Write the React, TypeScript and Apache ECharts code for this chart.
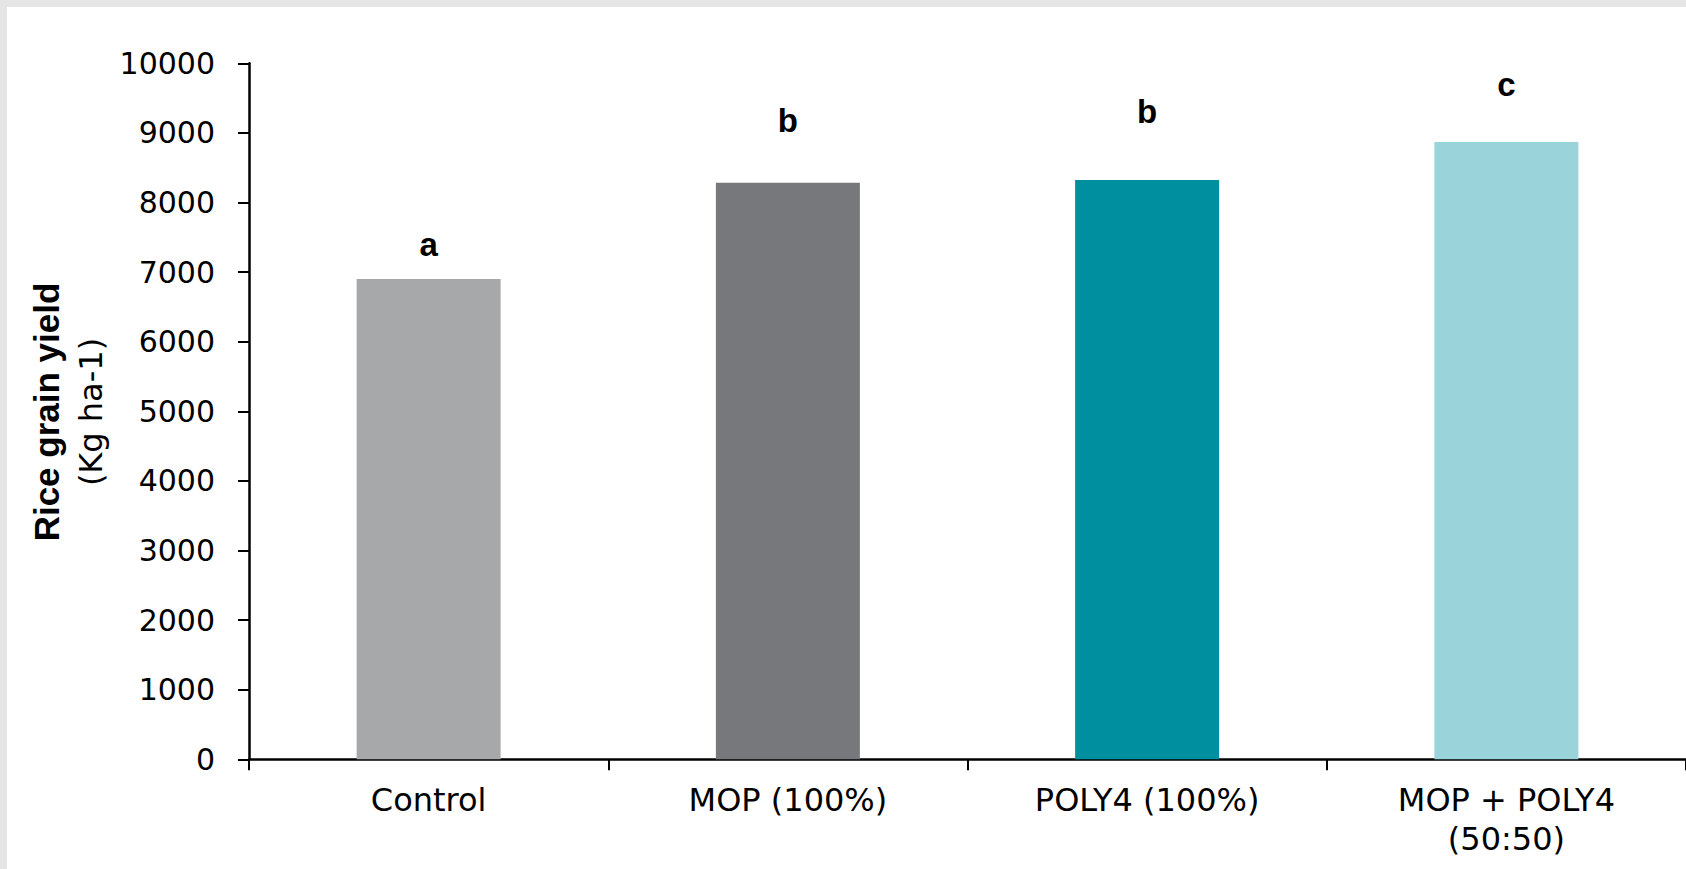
import React, { useEffect, useRef } from "react";
import * as echarts from "echarts";

const categories = ["Control", "MOP (100%)", "POLY4 (100%)", "MOP + POLY4\n(50:50)"];
const yieldValues = [6900, 8285, 8325, 8870];
const barColors = ["#A7A8AA", "#77787B", "#008F9E", "#9AD3DA"];
const letters = ["a", "b", "b", "c"];
const letterValues = [7400, 9180, 9310, 9690];
const yTicks = [0, 1000, 2000, 3000, 4000, 5000, 6000, 7000, 8000, 9000, 10000];

export default function App() {
  const ref = useRef<HTMLDivElement>(null);
  useEffect(() => {
    if (!ref.current) return;
    const chart = echarts.init(ref.current, undefined, { renderer: "svg" });
    chart.setOption({
      animation: false,
      backgroundColor: "#ffffff",
      grid: { left: 249, right: 0, top: 63.3, bottom: 109.7, containLabel: false },
      xAxis: {
        type: "category",
        data: categories,
        axisLine: { lineStyle: { color: "#000", width: 2.5 } },
        axisTick: { show: true, length: 11, lineStyle: { color: "#000", width: 2 }, alignWithLabel: false },
        axisLabel: {
          margin: 21,
          fontFamily: "DejaVu Sans",
          fontSize: 32,
          lineHeight: 39,
          color: "#000",
          interval: 0,
        },
      },
      yAxis: {
        type: "value",
        min: yTicks[0],
        max: yTicks[yTicks.length - 1],
        interval: 1000,
        splitLine: { show: false },
        axisLine: { show: true, lineStyle: { color: "#000", width: 2.5 } },
        axisTick: { show: true, length: 11, lineStyle: { color: "#000", width: 2 } },
        axisLabel: {
          margin: 34,
          fontFamily: "DejaVu Sans",
          fontSize: 30,
          color: "#000",
          formatter: (v: number) => String(v),
        },
      },
      series: [
        {
          type: "bar",
          barWidth: 144,
          data: yieldValues.map((v, i) => ({ value: v, itemStyle: { color: barColors[i] } })),
          z: 1,
        },
        {
          type: "scatter",
          symbolSize: 1,
          itemStyle: { color: "rgba(255,255,255,0)" },
          data: letterValues.map((v, i) => [categories[i], v]),
          label: {
            show: true,
            position: "inside",
            formatter: (p: any) => letters[p.dataIndex],
            fontFamily: "Liberation Sans",
            fontWeight: "bold",
            fontSize: 33,
            color: "#000000",
            opacity: 1,
            textBorderWidth: 0,
            textBorderColor: "transparent",
          },
          emphasis: { disabled: true },
          z: 3,
        },
      ],
      graphic: [
        { type: "rect", shape: { x: 0, y: 0, width: 1686, height: 7 }, style: { fill: "#E5E5E5" }, silent: true },
        { type: "rect", shape: { x: 0, y: 0, width: 7, height: 869 }, style: { fill: "#E5E5E5" }, silent: true },
        {
          type: "text",
          x: 46,
          y: 412,
          rotation: Math.PI / 2,
          style: {
            text: "Rice grain yield",
            font: "bold 35px 'Liberation Sans'",
            fill: "#000",
            align: "center",
            verticalAlign: "middle",
          },
        },
        {
          type: "text",
          x: 91,
          y: 412,
          rotation: Math.PI / 2,
          style: {
            text: "(Kg ha-1)",
            font: "32px 'DejaVu Sans'",
            fill: "#000",
            align: "center",
            verticalAlign: "middle",
          },
        },
      ],
    });
    return () => chart.dispose();
  }, []);
  return (
    <div
      ref={ref}
      style={{ position: "fixed", left: 0, top: 0, width: 1686, height: 869, background: "#fff" }}
    />
  );
}
